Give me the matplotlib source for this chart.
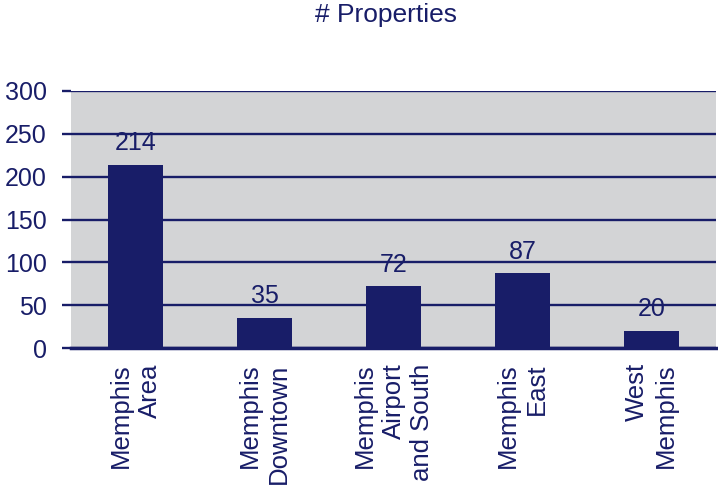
import matplotlib
matplotlib.use("Agg")
import matplotlib.pyplot as plt

categories = ["Memphis\nArea", "Memphis\nDowntown", "Memphis\nAirport\nand South", "Memphis\nEast", "West\nMemphis"]
values = [214, 35, 72, 87, 20]
yticks = [0, 50, 100, 150, 200, 250, 300]

NAVY = "#181d68"
GRAY = "#d3d4d6"

plt.rcParams['font.family'] = ['Liberation Sans', 'DejaVu Sans']

fig = plt.figure(figsize=(7.18, 4.87), dpi=100)
ax = fig.add_axes([71/718, 1-348/487, 645/718, 257/487])
ax.set_facecolor(GRAY)

x = list(range(len(categories)))
ax.set_axisbelow(True)
ax.yaxis.grid(True, color=NAVY, linewidth=1.7)
bars = ax.bar(x, values, width=0.42, color=NAVY, zorder=3)
for xi, v in zip(x, values):
    ax.annotate(str(v), (xi, v), xytext=(0, 7), textcoords="offset points",
                ha="center", va="bottom", fontsize=18, color=NAVY, zorder=4)

ax.set_xlim(-0.5, len(categories) - 0.5)
ax.set_ylim(0, 300)
ax.set_yticks(yticks)
ax.set_yticklabels([str(t) for t in yticks])
ax.tick_params(axis='y', direction='out', length=6.5, width=1.7, color=NAVY,
               labelsize=18, labelcolor=NAVY, pad=11)
ax.set_xticks(x)
ax.set_xticklabels(categories, rotation=90, va='top', ha='center',
                   multialignment='right', linespacing=1.25)
ax.tick_params(axis='x', length=0, labelsize=18.5, labelcolor=NAVY, pad=11)

for s in ['top', 'right', 'left']:
    ax.spines[s].set_visible(False)
ax.spines['bottom'].set_color(NAVY)
ax.spines['bottom'].set_linewidth(2.5)
ax.spines['bottom'].set_zorder(5)

fig.text(386/718, 1-15/487, "# Properties", ha="center", va="center",
         fontsize=19, color=NAVY)

fig.savefig("out.png", dpi=100)
